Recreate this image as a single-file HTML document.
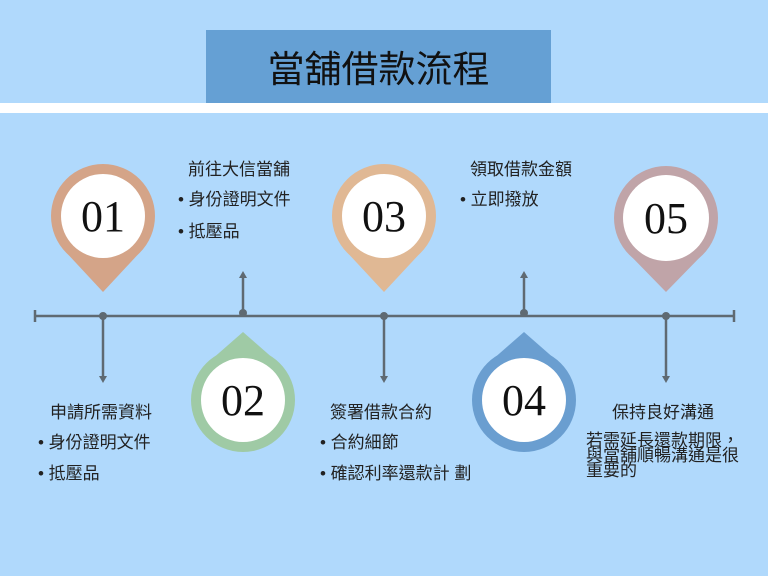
<!DOCTYPE html>
<html><head><meta charset="utf-8"><style>
html,body{margin:0;padding:0}
body{width:768px;height:576px;background:#b0d9fc;position:relative;overflow:hidden;font-family:"Liberation Sans","Noto Sans CJK TC",sans-serif;color:#222}
.t{position:absolute;font-size:17px;white-space:nowrap;line-height:20px}
</style></head><body>
<div style="position:absolute;left:206px;top:30px;width:345px;height:73px;background:#65a0d4"></div>
<div style="position:absolute;left:206px;top:30px;width:345px;height:73px;line-height:73px;text-align:center;font-size:37px;font-weight:400;color:#111;font-family:'Noto Sans CJK TC',sans-serif">當舖借款流程</div>
<div style="position:absolute;left:0;top:103px;width:768px;height:10px;background:#fff"></div>
<svg width="768" height="576" style="position:absolute;left:0;top:0">
<g stroke="#5f6a72" stroke-width="2.5" fill="#5f6a72">
<line x1="35" y1="316" x2="734" y2="316"/>
<line x1="35" y1="310" x2="35" y2="322"/><line x1="734" y1="310" x2="734" y2="322"/>
<line x1="103" y1="316" x2="103" y2="378"/><polygon points="99,376 107,376 103,383" stroke="none"/>
<line x1="384" y1="316" x2="384" y2="378"/><polygon points="380,376 388,376 384,383" stroke="none"/>
<line x1="666" y1="316" x2="666" y2="378"/><polygon points="662,376 670,376 666,383" stroke="none"/>
<line x1="243" y1="316" x2="243" y2="276"/><polygon points="239,278 247,278 243,271" stroke="none"/>
<line x1="524" y1="316" x2="524" y2="276"/><polygon points="520,278 528,278 524,271" stroke="none"/>
<circle cx="103" cy="316" r="4" stroke="none"/><circle cx="243" cy="313" r="4" stroke="none"/><circle cx="384" cy="316" r="4" stroke="none"/><circle cx="524" cy="313" r="4" stroke="none"/><circle cx="666" cy="316" r="4" stroke="none"/>
</g>
<g font-family="Liberation Serif,serif" font-size="44" text-anchor="middle" fill="#111">
<circle cx="103" cy="216" r="52" fill="#d4a488"/><polygon points="63,249 143,249 103,292" fill="#d4a488"/><circle cx="103" cy="216" r="42" fill="#fff"/><text x="103" y="231">01</text>
<circle cx="384" cy="216" r="52" fill="#e0b894"/><polygon points="344,249 424,249 384,292" fill="#e0b894"/><circle cx="384" cy="216" r="42" fill="#fff"/><text x="384" y="231">03</text>
<circle cx="666" cy="218" r="52" fill="#c0a4a8"/><polygon points="626,251 706,251 666,292" fill="#c0a4a8"/><circle cx="666" cy="218" r="43" fill="#fff"/><text x="666" y="233">05</text>
<circle cx="243" cy="400" r="52" fill="#9fcaa5"/><polygon points="203,367 283,367 243,332" fill="#9fcaa5"/><circle cx="243" cy="400" r="42" fill="#fff"/><text x="243" y="415">02</text>
<circle cx="524" cy="400" r="52" fill="#6a9ed0"/><polygon points="484,367 564,367 524,332" fill="#6a9ed0"/><circle cx="524" cy="400" r="42" fill="#fff"/><text x="524" y="415">04</text>
</g>
</svg>
<div class="t" style="left:188px;top:160px">前往大信當舖</div>
<div class="t" style="left:178px;top:190px">• 身份證明文件</div>
<div class="t" style="left:178px;top:222px">• 抵壓品</div>
<div class="t" style="left:470px;top:160px">領取借款金額</div>
<div class="t" style="left:460px;top:190px">• 立即撥放</div>
<div class="t" style="left:50px;top:403px">申請所需資料</div>
<div class="t" style="left:38px;top:433px">• 身份證明文件</div>
<div class="t" style="left:38px;top:464px">• 抵壓品</div>
<div class="t" style="left:330px;top:403px">簽署借款合約</div>
<div class="t" style="left:320px;top:433px">• 合約細節</div>
<div class="t" style="left:320px;top:464px">• 確認利率還款計 劃</div>
<div class="t" style="left:612px;top:403px">保持良好溝通</div>
<div class="t" style="left:586px;top:433px;font-size:17px;line-height:15px;white-space:normal;width:160px">若需延長還款期限，與當舖順暢溝通是很重要的</div>
</body></html>
